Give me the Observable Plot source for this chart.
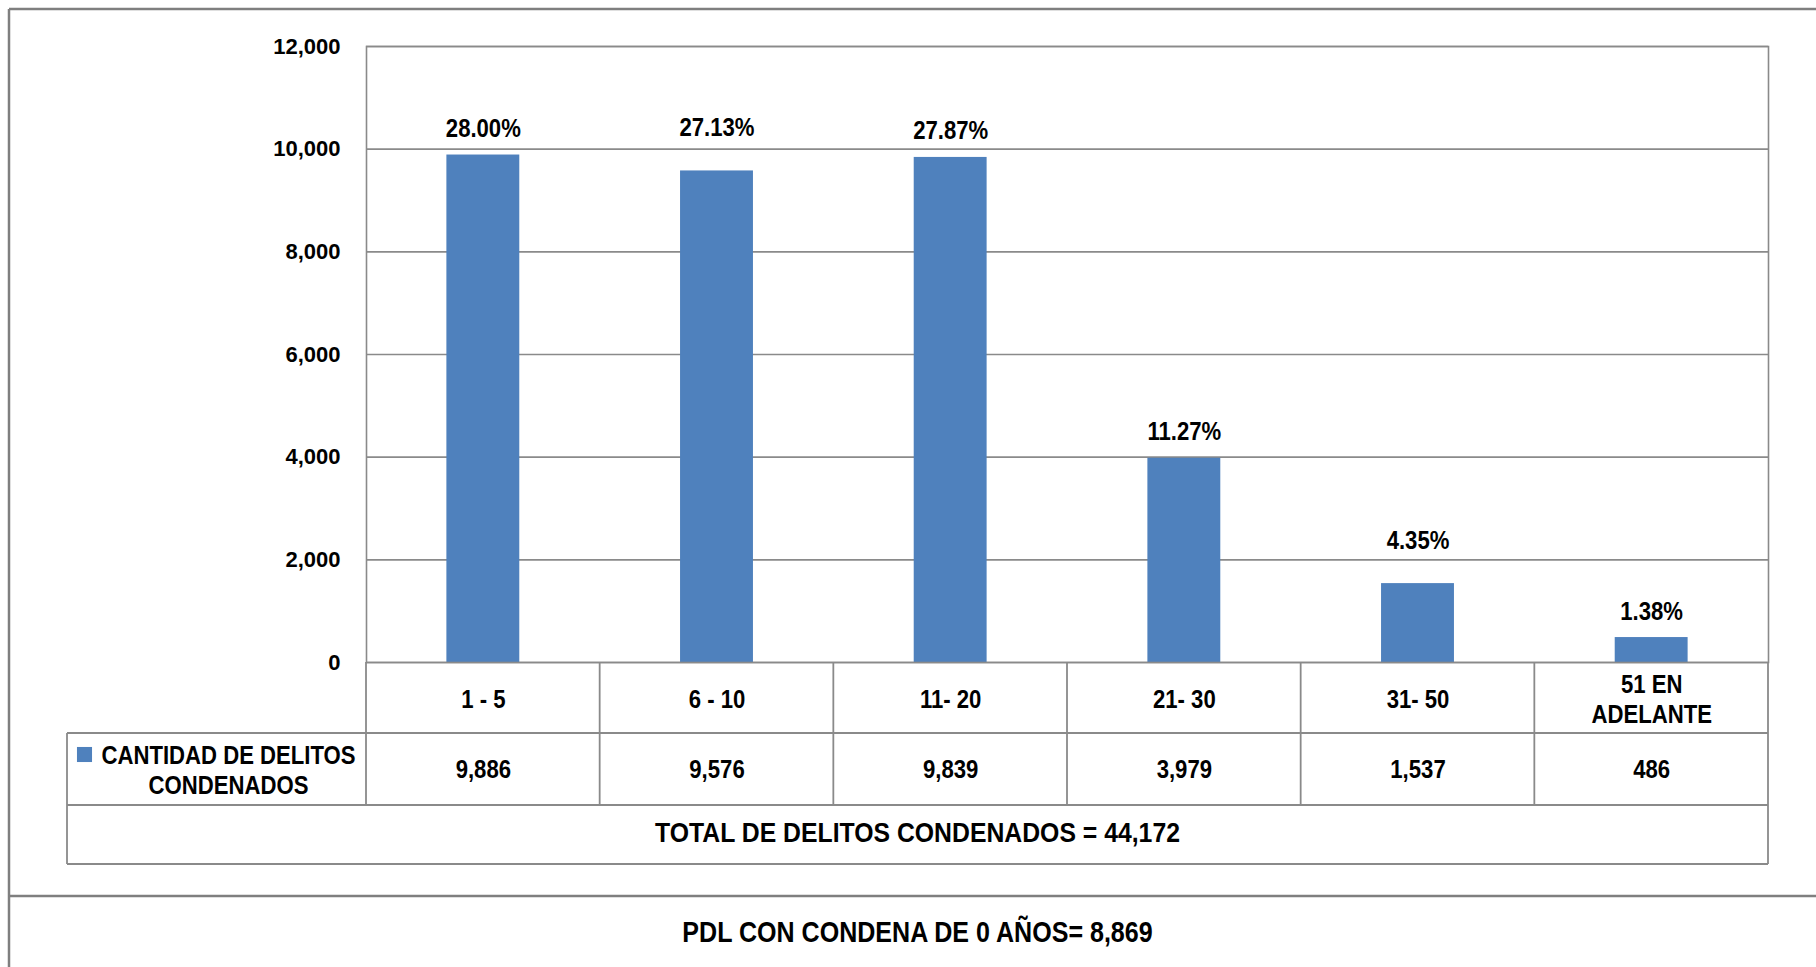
<!DOCTYPE html>
<html><head><meta charset="utf-8">
<script src="https://cdn.jsdelivr.net/npm/d3@7"></script>
<script src="https://cdn.jsdelivr.net/npm/@observablehq/plot@0.6"></script>
<style>
html,body{margin:0;padding:0;background:#fff;overflow:hidden;}
#chart svg{display:block;}
</style></head><body><div id="chart"></div>
<script>
// ---- data ----
const categories = ["1 - 5", "6 - 10", "11- 20", "21- 30", "31- 50", "51 EN\nADELANTE"];
const values = [9886, 9576, 9839, 3979, 1537, 486];
const percentLabels = ["28.00%", "27.13%", "27.87%", "11.27%", "4.35%", "1.38%"];
const yTicks = [0, 2000, 4000, 6000, 8000, 10000, 12000];
const seriesName = "CANTIDAD DE DELITOS\nCONDENADOS";
const totalLabel = "TOTAL DE DELITOS CONDENADOS = 44,172";
const footerLabel = "PDL CON CONDENA DE 0 AÑOS= 8,869";
const raisedLabels = ["6 - 10", "31- 50"];

const data = categories.map((c, i) => ({category: c, value: values[i], pct: percentLabels[i]}));

// ---- layout / style ----
const W = 1816, H = 967;
const M = {left: 366, right: 48, top: 46, bottom: 305};
const FONT = '"Liberation Sans",Arial,sans-serif';
const BLUE = "#4F81BD", LINE = "#8a8a8a";
const fmt = d3.format(",");
const txt = {fontSize: 25, fill: "#000"};

const plot = Plot.plot({
  width: W, height: H,
  marginLeft: M.left, marginRight: M.right, marginTop: M.top, marginBottom: M.bottom,
  style: {fontFamily: FONT, fontWeight: "bold", color: "#000", background: "#fff", overflow: "visible"},
  x: {domain: categories, paddingInner: 0.688, paddingOuter: 0.344, round: false, axis: null},
  y: {domain: [0, 12000], axis: null},
  marks: [
    Plot.gridY(yTicks, {stroke: LINE, strokeOpacity: 1, strokeWidth: 1.6}),
    Plot.barY(data, {x: "category", y: "value", fill: BLUE}),
    Plot.frame({stroke: LINE, strokeWidth: 1.6}),
    Plot.axisY({ticks: yTicks, tickSize: 0, tickPadding: 26, tickFormat: fmt, fontSize: 22, fill: "#000", label: null}),
    Plot.text(data.filter(d => !raisedLabels.includes(d.category)),
      {x: "category", y: "value", text: "pct", dy: -26, lineAnchor: "middle", ...txt}),
    Plot.text(data.filter(d => raisedLabels.includes(d.category)),
      {x: "category", y: "value", text: "pct", dy: -43, lineAnchor: "middle", ...txt}),
    Plot.text(data, {x: "category", text: "category", frameAnchor: "bottom", dy: 36, lineAnchor: "middle", lineHeight: 1.2, ...txt}),
    Plot.text(data, {x: "category", text: d => fmt(d.value), frameAnchor: "bottom", dy: 107, lineAnchor: "middle", ...txt}),
    Plot.text([seriesName], {text: d => d, frameAnchor: "bottom-left", dx: -138, dy: 107, textAnchor: "middle", lineAnchor: "middle", lineHeight: 1.2, ...txt}),
    Plot.dot([0], {frameAnchor: "bottom-left", dx: -282, dy: 92, symbol: "square", r: 8.5, fill: BLUE, stroke: null}),
    Plot.text([totalLabel], {text: d => d, frameAnchor: "bottom", dx: -150, dy: 171, lineAnchor: "middle", fontSize: 28, fill: "#000"}),
    Plot.text([footerLabel], {text: d => d, frameAnchor: "bottom", dx: -150, dy: 270, lineAnchor: "middle", fontSize: 30, fill: "#000"})
  ]
});

document.getElementById("chart").append(plot);
const svg = d3.select(plot);

// condense glyphs horizontally (the reference uses a narrow bold face)
function condense(nodes, factor) {
  nodes.forEach(node => {
    const spans = node.querySelectorAll("tspan");
    (spans.length ? [...spans] : [node]).forEach(n => {
      const L = n.getComputedTextLength();
      n.setAttribute("textLength", (L * factor).toFixed(1));
      n.setAttribute("lengthAdjust", "spacingAndGlyphs");
    });
  });
}
const allText = [...plot.querySelectorAll('g[aria-label="text"] text')];
condense(allText.filter(t => t.textContent !== footerLabel), 0.885);
condense(allText.filter(t => t.textContent === footerLabel), 0.835);

// ---- table grid, drawn from the plot's x scale ----
const xs = plot.scale("x");
const x0 = xs.range[0], step = xs.step;
const edges = d3.range(categories.length + 1).map(k => x0 + k * step);
const xRight = edges[edges.length - 1];
const yZero = H - M.bottom;
const catBottom = yZero + 71, serBottom = catBottom + 72, totBottom = serBottom + 59;
const legendLeft = 67, outer = 9, footerLine = 896;

const g = svg.append("g").attr("stroke", LINE).attr("stroke-width", 1.8).attr("fill", "none");
edges.forEach((ex, k) => {
  g.append("line").attr("x1", ex).attr("x2", ex).attr("y1", yZero)
    .attr("y2", k === edges.length - 1 ? totBottom : serBottom);
});
g.append("line").attr("x1", legendLeft).attr("x2", legendLeft).attr("y1", catBottom).attr("y2", totBottom);
[catBottom, serBottom, totBottom].forEach(yy => {
  g.append("line").attr("x1", legendLeft).attr("x2", xRight).attr("y1", yy).attr("y2", yy);
});
const go = svg.append("g").attr("stroke", "#7f7f7f").attr("stroke-width", 2.5).attr("fill", "none");
go.append("line").attr("x1", outer).attr("x2", outer).attr("y1", outer).attr("y2", H);
go.append("line").attr("x1", outer).attr("x2", W).attr("y1", outer).attr("y2", outer);
go.append("line").attr("x1", outer).attr("x2", W).attr("y1", footerLine).attr("y2", footerLine);
</script>
</body></html>
